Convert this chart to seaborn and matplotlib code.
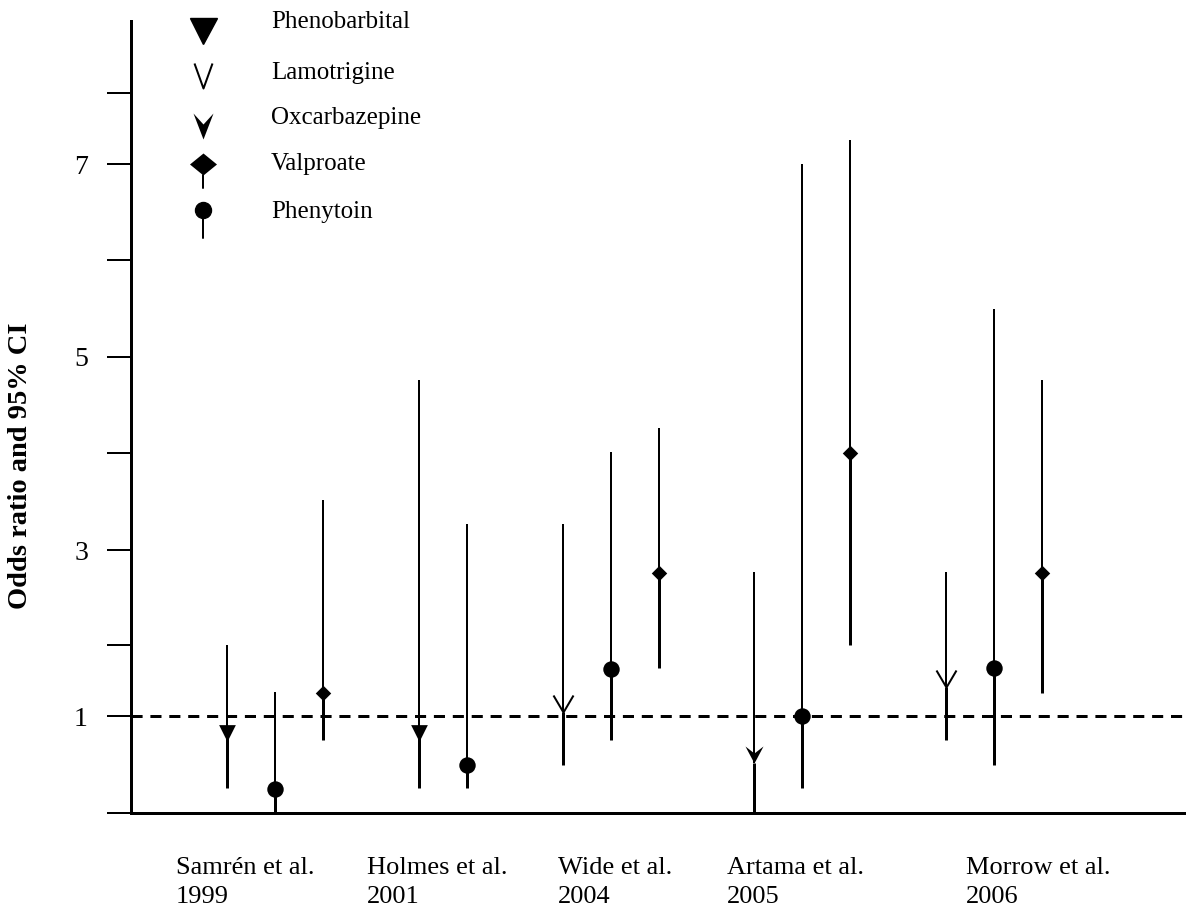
import numpy as np
import pandas as pd
import seaborn as sns
import matplotlib.pyplot as plt
from matplotlib.path import Path

sns.set_theme(style="ticks", rc={"axes.edgecolor": "black", "xtick.color": "black",
                                 "ytick.color": "black", "text.color": "black",
                                 "axes.labelcolor": "black"})
plt.rcParams["font.family"] = ["Liberation Serif", "DejaVu Serif"]

# Dados
studies = ["Samrén et al.\n1999", "Holmes et al.\n2001", "Wide et al.\n2004",
           "Artama et al.\n2005", "Morrow et al.\n2006"]
drugs = ["Phenobarbital", "Lamotrigine", "Oxcarbazepine", "Valproate", "Phenytoin"]

study_of = [0, 0, 0, 1, 1, 2, 2, 2, 3, 3, 3, 4, 4, 4]
drug_of = ["Phenobarbital", "Phenytoin", "Valproate",
           "Phenobarbital", "Phenytoin",
           "Lamotrigine", "Phenytoin", "Valproate",
           "Oxcarbazepine", "Phenytoin", "Valproate",
           "Lamotrigine", "Phenytoin", "Valproate"]
odds = [0.82, 0.25, 1.32, 0.82, 0.50, 1.06, 1.66, 2.76, 0.52, 1.00, 4.00, 1.41, 1.68, 2.76]
ci_low = [0.26, 0.00, 0.75, 0.26, 0.26, 0.50, 0.75, 1.68, 0.00, 0.26, 2.00, 0.75, 0.50, 1.32]
ci_high = [2.00, 1.34, 3.52, 4.76, 3.27, 3.27, 4.01, 4.26, 2.77, 7.00, 7.34, 2.77, 5.50, 4.76]

# o eixo original não é regular: valor -> altura acima da base (px)
axis_vals = [0, 1, 2, 3, 4, 5, 6, 7, 8, 9]
axis_px = [0, 97, 168, 263, 360, 456, 553, 649, 720, 792]

df = pd.DataFrame({"study": study_of, "drug": drug_of, "odds": odds,
                   "low": ci_low, "high": ci_high})
# uma posição vazia entre estudos
df["pos"] = np.arange(len(df)) + df["study"]

W, H = 1186, 907


def v_open(w, h):
    return Path([(-w / 2, h), (0, 0), (w / 2, h)],
                [Path.MOVETO, Path.LINETO, Path.LINETO])


def arrow(w, h, notch):
    return Path([(0, 0), (-w / 2, h), (0, notch), (w / 2, h), (0, 0)],
                [Path.MOVETO, Path.LINETO, Path.LINETO, Path.LINETO, Path.CLOSEPOLY])


def diamond(w, h):
    return Path([(0, h / 2), (w / 2, 0), (0, -h / 2), (-w / 2, 0), (0, h / 2)],
                [Path.MOVETO, Path.LINETO, Path.LINETO, Path.LINETO, Path.CLOSEPOLY])


fig = plt.figure(figsize=(W / 100, H / 100), dpi=100)
ax = fig.add_axes([131 / W, 94 / H, 1 - 131 / W, 792 / H])

ax.set_yscale("function", functions=(lambda v: np.interp(v, axis_vals, axis_px),
                                     lambda d: np.interp(d, axis_px, axis_vals)))

ax.axhline(1, color="black", lw=2.16, dashes=(3.7, 2.6), zorder=1)
ax.vlines(df["pos"], df["odds"], df["high"], color="black", lw=1.44, zorder=2)
ax.vlines(df["pos"], df["low"], df["odds"], color="black", lw=2.16, zorder=2)

filled = {
    "Phenobarbital": ("v", 145),
    "Oxcarbazepine": (arrow(18, 17, 10), (2 * 17 * 0.72) ** 2),
    "Valproate": ("D", 62),
    "Phenytoin": ("o", 140),
}
for d, (m, s) in filled.items():
    sub = df[df["drug"] == d]
    sns.scatterplot(data=sub, x="pos", y="odds", marker=m, s=s, color="black",
                    edgecolor="black", linewidth=0, legend=False, ax=ax, zorder=3)
sub = df[df["drug"] == "Lamotrigine"]
ax.plot(sub["pos"], sub["odds"], ls="none", marker=v_open(20, 17), ms=2 * 17 * 0.72,
        mfc="none", mec="black", mew=1.44, zorder=3)

ax.set_xlim(-2, 20)
ax.set_ylim(0, 9)
sns.despine(ax=ax)
for sp in ["left", "bottom"]:
    ax.spines[sp].set_linewidth(2.16)

# rótulos dos estudos, alinhados à esquerda
label_x = [-1.06, 2.92, 6.9, 10.42, 15.42]
ax.set_xticks([])
for x, name in zip(label_x, studies):
    ax.text(x, -0.055, name, transform=ax.get_xaxis_transform(), fontsize=19,
            ha="left", va="top", linespacing=1.45)

ax.set_yticks([1, 3, 5, 7])
ax.set_yticks([0, 2, 4, 6, 8], minor=True)
ax.tick_params(axis="y", which="both", length=17.3, width=1.44, direction="out")
ax.tick_params(axis="y", which="major", labelsize=20, pad=13.7)
ax.set_xlabel("")
ax.set_ylabel("Odds ratio and 95% CI", fontsize=20.5, fontweight="bold")
ax.yaxis.set_label_coords(-0.093, 0.439)

# legenda desenhada à mão (marcadores com haste)
def px(x, y):
    return x / W, 1 - y / H


tf = fig.transFigure
lx = 203
ax.plot(*px(lx, 31), marker="v", ms=27 * 0.72, color="black", transform=tf, clip_on=False)
ax.plot(*px(lx, 88), marker=v_open(18, 25), ms=2 * 25 * 0.72, mfc="none", mec="black",
        mew=1.44, transform=tf, clip_on=False)
ax.plot(*px(lx, 139), marker=arrow(20, 26, 15), ms=2 * 26 * 0.72, color="black",
        mew=0, transform=tf, clip_on=False)
ax.plot(*px(lx, 164), marker=diamond(27, 22), ms=27 * 0.72, color="black", mew=0,
        transform=tf, clip_on=False)
ax.plot([px(lx, 175)[0], px(lx, 188)[0]], [px(lx, 175)[1], px(lx, 188)[1]],
        color="black", lw=1.44, transform=tf, clip_on=False)
ax.plot(*px(lx, 210), marker="o", ms=16 * 0.72, color="black", transform=tf, clip_on=False)
ax.plot([px(lx, 216)[0], px(lx, 238)[0]], [px(lx, 216)[1], px(lx, 238)[1]],
        color="black", lw=1.44, transform=tf, clip_on=False)

legend_y = [22, 73, 118, 164, 212]
for name, y in zip(drugs, legend_y):
    fig.text(*px(271, y), name, fontsize=18, va="center", ha="left")

fig.savefig("out.png", dpi=100)
